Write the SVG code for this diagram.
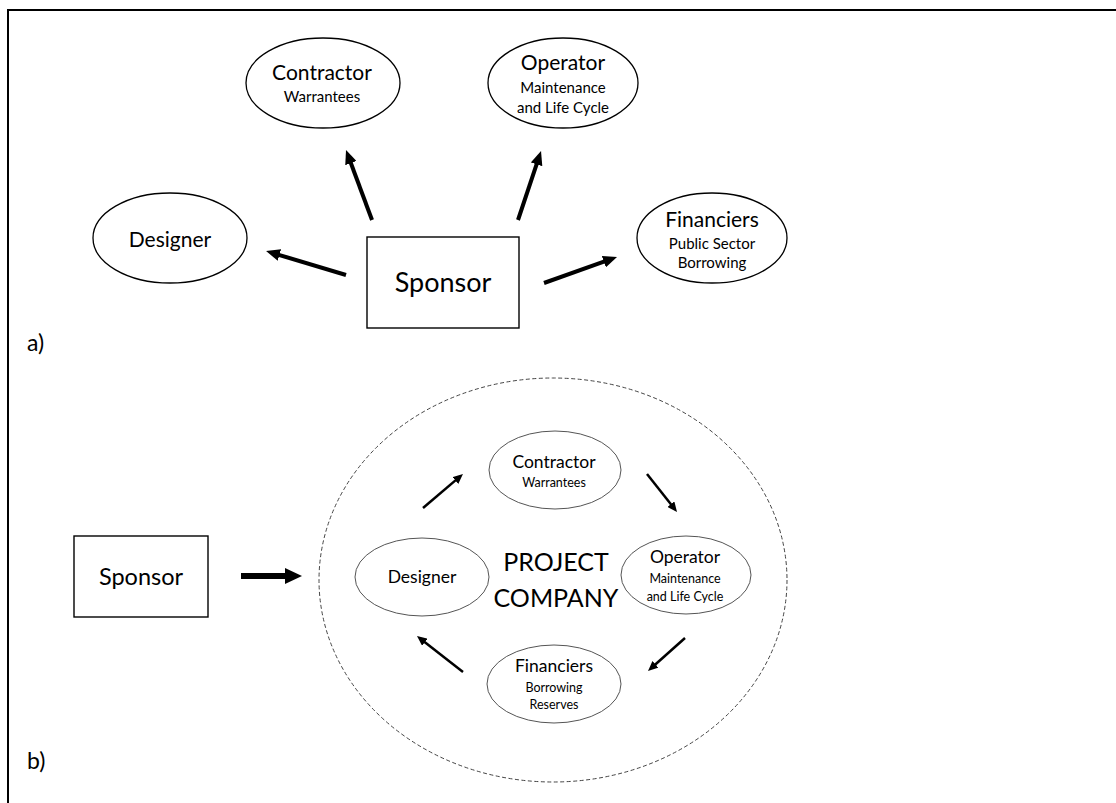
<svg xmlns="http://www.w3.org/2000/svg" width="1116" height="803" viewBox="0 0 1116 803">
  <style>
    text { font-family: Lato, "Open Sans", "Liberation Sans", sans-serif; fill: #000; text-anchor: middle; }
    .frame { fill: none; stroke: #000; stroke-width: 2; }
    .node-a { fill: #fff; stroke: #000; stroke-width: 1.3; }
    .node-b { fill: #fff; stroke: #555; stroke-width: 1; }
    .box { fill: #fff; stroke: #000; stroke-width: 1.4; }
    .company { fill: none; stroke: #444; stroke-width: 1; stroke-dasharray: 4 2.5; }
    .big { font-size: 21px; }
    .sub { font-size: 15px; }
    .big-b { font-size: 17.5px; }
    .sub-b { font-size: 12.5px; }
    .sponsor { font-size: 27px; }
    .title { font-size: 25px; }
    .panel { font-size: 23px; text-anchor: start; }
    .arrow-a { stroke: #000; stroke-width: 4; fill: none; marker-end: url(#head-a); }
    .arrow-b { stroke: #000; stroke-width: 2.5; fill: none; marker-end: url(#head-b); }
    .arrow-big { stroke: #000; stroke-width: 6; fill: none; marker-end: url(#head-big); }
  </style>
  <defs>
    <marker id="head-a" markerUnits="userSpaceOnUse" markerWidth="14" markerHeight="12" refX="6" refY="6" orient="auto">
      <path d="M0,0 L14,6 L0,12 z" fill="#000"/>
    </marker>
    <marker id="head-b" markerUnits="userSpaceOnUse" markerWidth="10" markerHeight="9" refX="4" refY="4.5" orient="auto">
      <path d="M0,0 L10,4.5 L0,9 z" fill="#000"/>
    </marker>
    <marker id="head-big" markerUnits="userSpaceOnUse" markerWidth="17" markerHeight="16" refX="1" refY="8" orient="auto">
      <path d="M0,0 L17,8 L0,16 z" fill="#000"/>
    </marker>
  </defs>

  <rect width="1116" height="803" fill="#fff"/>
  <!-- outer frame: top and left edges only -->
  <path class="frame" d="M8,803 V10 H1116"/>

  <!-- ===== panel a) ===== -->
  <g id="a-contractor">
    <ellipse class="node-a" cx="323" cy="83" rx="77" ry="45"/>
    <text class="big" x="322" y="80">Contractor</text>
    <text class="sub" x="322" y="102">Warrantees</text>
  </g>
  <g id="a-operator">
    <ellipse class="node-a" cx="563" cy="83" rx="75" ry="45"/>
    <text class="big" x="563" y="70">Operator</text>
    <text class="sub" x="563" y="93">Maintenance</text>
    <text class="sub" x="563" y="113">and Life Cycle</text>
  </g>
  <g id="a-designer">
    <ellipse class="node-a" cx="170" cy="238" rx="77" ry="45"/>
    <text class="big" x="170" y="247">Designer</text>
  </g>
  <g id="a-financiers">
    <ellipse class="node-a" cx="712" cy="238" rx="75" ry="45"/>
    <text class="big" x="712" y="227">Financiers</text>
    <text class="sub" x="712" y="249">Public Sector</text>
    <text class="sub" x="712" y="268">Borrowing</text>
  </g>
  <g id="a-sponsor">
    <rect class="box" x="367" y="237" width="152" height="91"/>
    <text class="sponsor" x="443" y="292">Sponsor</text>
  </g>
  <text class="panel" x="27" y="351">a)</text>

  <g id="a-connectors">
    <line class="arrow-a" x1="372" y1="220" x2="348.8" y2="157.5"/>
    <line class="arrow-a" x1="518" y1="220" x2="538.5" y2="158.6"/>
    <line class="arrow-a" x1="346" y1="275" x2="273.7" y2="253.3"/>
    <line class="arrow-a" x1="544" y1="283" x2="609.5" y2="259.7"/>
  </g>

  <!-- ===== panel b) ===== -->
  <g id="b-sponsor">
    <rect class="box" x="74" y="536" width="134" height="81"/>
    <text class="sponsor" style="font-size:23.5px" x="141" y="585">Sponsor</text>
  </g>
  <g id="b-project-company">
    <ellipse class="company" cx="553" cy="580" rx="234" ry="202"/>
    <text class="title" x="556" y="571">PROJECT</text>
    <text class="title" x="556" y="607">COMPANY</text>
  </g>
  <g id="b-contractor">
    <ellipse class="node-b" cx="555" cy="470" rx="66" ry="39"/>
    <text class="big-b" x="554" y="468">Contractor</text>
    <text class="sub-b" x="554" y="487">Warrantees</text>
  </g>
  <g id="b-operator">
    <ellipse class="node-b" cx="686" cy="575" rx="65" ry="39"/>
    <text class="big-b" x="685" y="563">Operator</text>
    <text class="sub-b" x="685" y="583">Maintenance</text>
    <text class="sub-b" x="685" y="601">and Life Cycle</text>
  </g>
  <g id="b-designer">
    <ellipse class="node-b" cx="422" cy="577" rx="67" ry="39"/>
    <text class="big-b" x="422" y="583">Designer</text>
  </g>
  <g id="b-financiers">
    <ellipse class="node-b" cx="554" cy="684" rx="67" ry="39"/>
    <text class="big-b" x="554" y="672">Financiers</text>
    <text class="sub-b" x="554" y="692">Borrowing</text>
    <text class="sub-b" x="554" y="709">Reserves</text>
  </g>
  <text class="panel" x="27" y="769">b)</text>

  <g id="b-connectors">
    <line class="arrow-big" x1="241" y1="576" x2="286" y2="576"/>
    <line class="arrow-b" x1="423" y1="508" x2="458.4" y2="477.9"/>
    <line class="arrow-b" x1="647" y1="474" x2="673.3" y2="507.3"/>
    <line class="arrow-b" x1="685" y1="638" x2="652.5" y2="667"/>
    <line class="arrow-b" x1="463" y1="672" x2="421.7" y2="639.7"/>
  </g>
</svg>
